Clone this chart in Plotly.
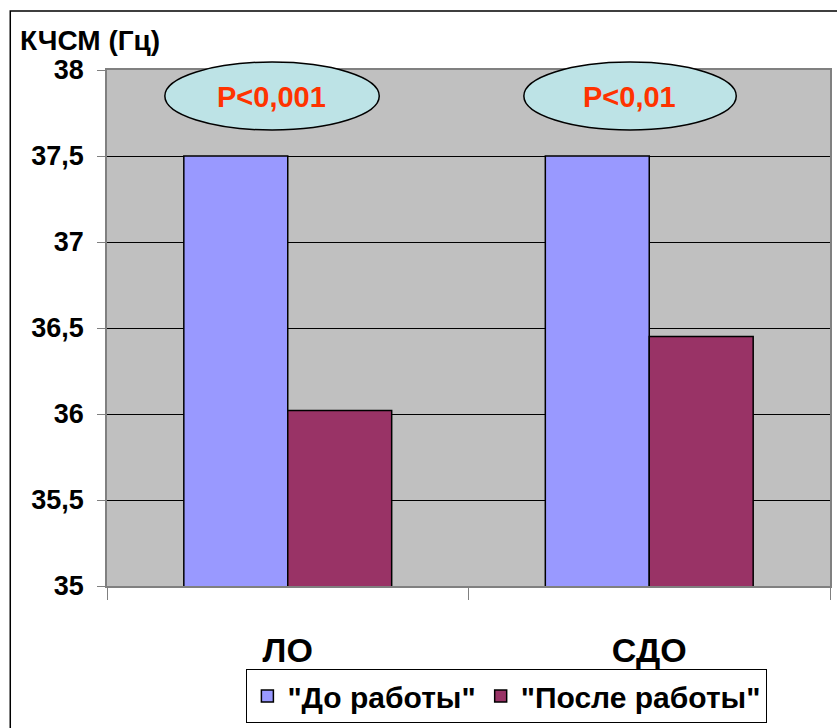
import plotly.graph_objects as go

categories = ["ЛО", "СДО"]
series_names = ['"До работы"', '"После работы"']
before_values = [37.5, 37.5]
after_values = [36.02, 36.45]
p_labels = ["P<0,001", "P<0,01"]
y_title = "КЧСМ (Гц)"

FONT = "Liberation Sans, Arial, sans-serif"

W, H = 837, 728
L, R, T, B = 107, 5, 70, 142
PW, PH = W - L - R, H - T - B


def px(x):
    return (x - L) / PW


def py(y):
    return (H - B - y) / PH


fig = go.Figure()
fig.add_trace(go.Bar(x=categories, y=before_values, name=series_names[0],
                     marker=dict(color="#9999FF", line=dict(color="black", width=1.5))))
fig.add_trace(go.Bar(x=categories, y=after_values, name=series_names[1],
                     marker=dict(color="#993366", line=dict(color="black", width=1.5))))

shapes = [
    dict(type="rect", xref="paper", yref="paper", x0=px(10), x1=1.5, y0=-1.0, y1=py(11),
         line=dict(color="black", width=1.5), fillcolor="rgba(0,0,0,0)", layer="below"),
]
ell = [(165, 380), (525, 738)]
centers = [272, 631]
annotations = []
for (a, b), c, lab in zip(ell, centers, p_labels):
    shapes.append(dict(type="circle", xref="paper", yref="paper", x0=px(a), x1=px(b),
                       y0=py(130), y1=py(62), fillcolor="#BDE3E6",
                       line=dict(color="black", width=1.5), layer="above"))
    annotations.append(dict(x=px(c), y=py(97), xref="paper", yref="paper", text=lab,
                            xanchor="center", yanchor="middle", showarrow=False,
                            font=dict(family=FONT, size=29, color="#FF3300", weight="bold")))

annotations.append(dict(x=px(18), y=py(41), xref="paper", yref="paper", xanchor="left",
                        yanchor="middle", text=y_title, showarrow=False,
                        font=dict(family=FONT, size=28, color="black", weight="bold")))

fig.update_layout(
    width=W, height=H,
    margin=dict(l=L, r=R, t=T, b=B, pad=0),
    paper_bgcolor="white", plot_bgcolor="#C0C0C0",
    separators=", ",
    barmode="group", bargap=0.425, bargroupgap=0,
    font=dict(family=FONT, color="black"),
    showlegend=True,
    legend=dict(orientation="h", x=px(508), y=py(669), xanchor="center", yanchor="top",
                bordercolor="black", borderwidth=1, bgcolor="white",
                font=dict(family=FONT, size=30, color="black", weight="bold"),
                itemwidth=30),
    shapes=shapes, annotations=annotations,
)
fig.update_yaxes(range=[35, 38], dtick=0.5, showgrid=True, gridcolor="black", gridwidth=1,
                 ticks="outside", ticklen=8, tickcolor="#808080",
                 showline=True, linecolor="#808080", linewidth=1.5, mirror=True,
                 tickfont=dict(family=FONT, size=27, color="black", weight="bold"),
                 ticklabelstandoff=8, zeroline=False)
fig.update_xaxes(ticks="outside", tickson="boundaries", ticklen=12, tickcolor="#808080",
                 showline=True, linecolor="#808080", linewidth=1.5, mirror=True,
                 tickfont=dict(family=FONT, size=34, color="black", weight="bold"),
                 ticklabelstandoff=33)

fig.write_html("out.html", config={"displayModeBar": False},
               post_script="document.body.style.margin='0';")
